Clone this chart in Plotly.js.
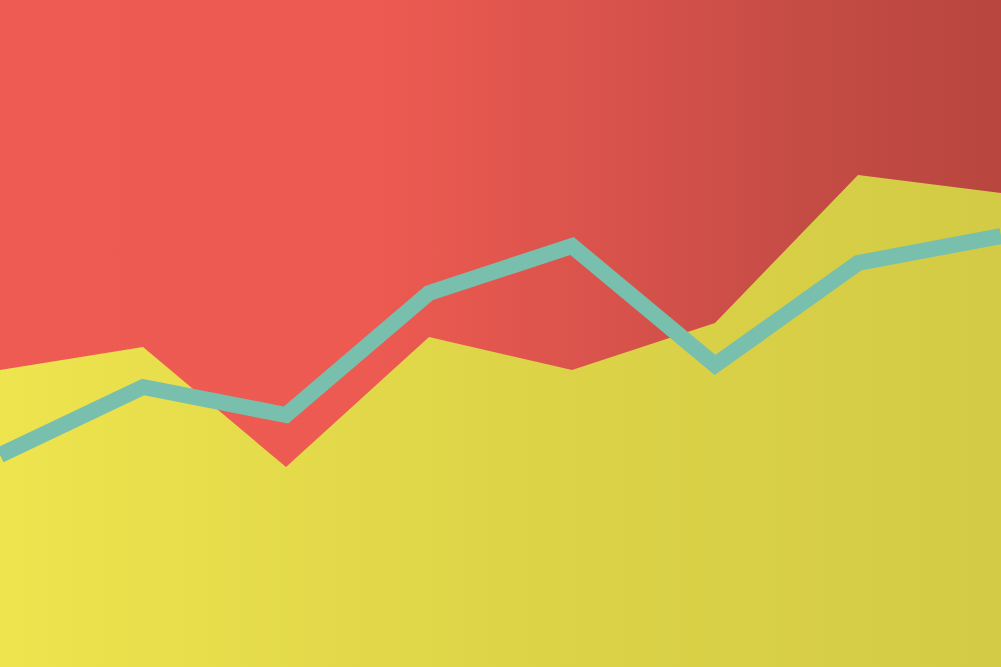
<!DOCTYPE html>
<html>
<head>
<meta charset="utf-8">
<script src="https://cdn.plot.ly/plotly-3.0.1.min.js"></script>
<style>
    html, body { margin: 0; padding: 0; }
    #chart {
        width: 1001px;
        height: 667px;
        background: linear-gradient(90deg, #EE5B53 0%, #EC5A51 38%, #D9534C 60%, #C54C45 80%, #B8463F 100%);
    }
</style>
</head>
<body>
<div id="chart"></div>
<script>
// Eight evenly spaced steps across the picture
const steps = [0, 1, 2, 3, 4, 5, 6, 7];

// Height of the yellow area and of the teal line (in picture units, 0 = bottom)
const areaValues = [297, 320, 200, 330, 297, 344, 492, 474];
const lineValues = [212, 280, 252, 374, 421, 302, 404, 431];

const area = {
    x: steps,
    y: areaValues,
    type: 'scatter',
    mode: 'lines',
    line: { width: 0, color: '#E3DA49' },
    fill: 'tozeroy',
    fillgradient: {
        type: 'horizontal',
        colorscale: [[0, '#EEE44E'], [0.5, '#DDD448'], [1, '#D3CB45']]
    },
    hoverinfo: 'skip'
};

const line = {
    x: steps,
    y: lineValues,
    type: 'scatter',
    mode: 'lines',
    line: { color: '#78BFAD', width: 16 },
    hoverinfo: 'skip'
};

const layout = {
    width: 1001,
    height: 667,
    margin: { l: 0, r: 0, t: 0, b: 0 },
    paper_bgcolor: 'rgba(0,0,0,0)',
    plot_bgcolor: 'rgba(0,0,0,0)',
    showlegend: false,
    xaxis: { range: [0, 7], visible: false, showgrid: false, zeroline: false, fixedrange: true },
    yaxis: { range: [0, 667], visible: false, showgrid: false, zeroline: false, fixedrange: true }
};

Plotly.newPlot('chart', [area, line], layout, { displayModeBar: false, staticPlot: true });
</script>
</body>
</html>
